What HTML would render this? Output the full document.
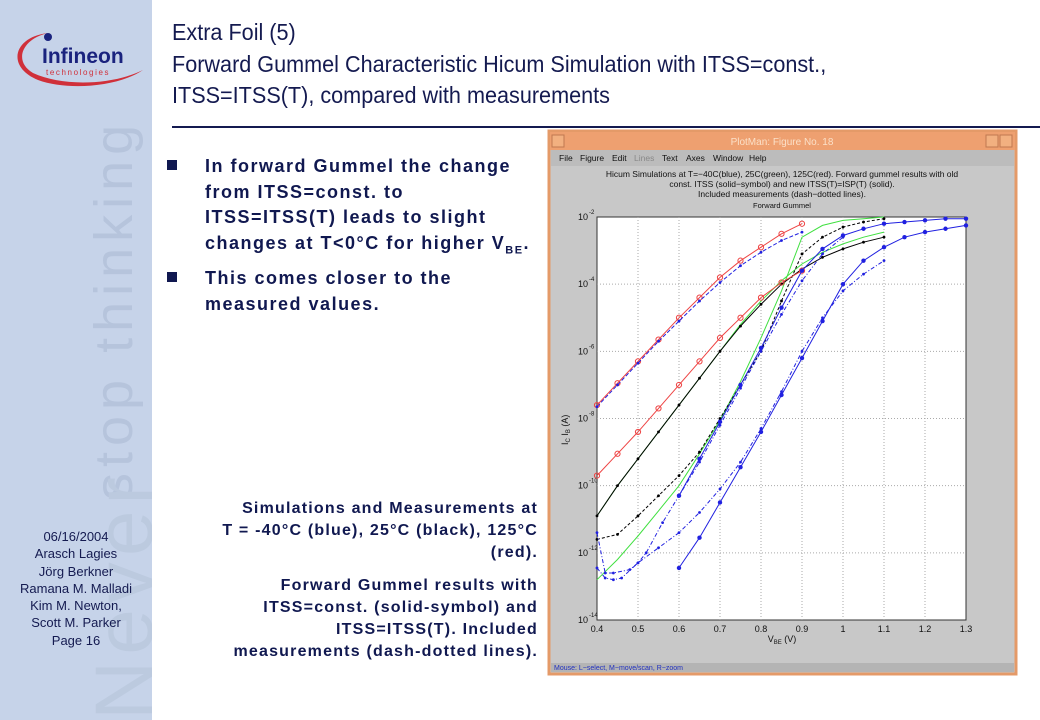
<!DOCTYPE html>
<html><head><meta charset="utf-8"><style>
body{margin:0;width:1040px;height:720px;overflow:hidden;background:#fff;font-family:"Liberation Sans",sans-serif;position:relative}
.abs{position:absolute}
.t{font-family:"Liberation Sans Narrow","Liberation Sans",sans-serif;font-size:23px;color:#141a50;white-space:nowrap;left:172px;transform:scaleX(0.94);transform-origin:left top}
.b{font-weight:bold;font-size:18px;color:#101850;line-height:25.5px;left:205px;white-space:nowrap;letter-spacing:1.5px}
.sq{width:10px;height:10px;background:#101850;left:167px}
.cap{font-weight:bold;font-size:16px;color:#101850;text-align:right;right:502px;width:380px;line-height:22px;white-space:nowrap;letter-spacing:1.2px}
</style></head><body>
<div class="abs" style="left:0;top:0;width:152px;height:720px;background:#c6d3e9"></div>
<svg class="abs" style="left:0;top:0" width="152" height="720">
<text transform="translate(132,500) rotate(-90)" font-size="54" fill="#b6c4dc" font-family="Liberation Sans" letter-spacing="6">stop thinking</text>
<text transform="translate(152,720) rotate(-90)" font-size="82" fill="#bccadf" font-family="Liberation Sans" letter-spacing="6">Never</text>
</svg>
<svg class="abs" style="left:8px;top:25px" width="140" height="70">
<path d="M40 8 C5 12,-2 42,30 55 C60 66,110 62,135 45 C105 60,55 62,25 48 C5 36,14 14,40 8Z" fill="#d0303a"/>
<circle cx="40" cy="12" r="4" fill="#1a237e"/>
<text x="34" y="38" font-size="21" font-weight="bold" fill="#1a237e" font-family="Liberation Sans Narrow,Liberation Sans">Infineon</text>
<text x="38" y="50" font-size="8" fill="#d0303a" letter-spacing="1.6">technologies</text>
</svg>
<div class="abs" style="left:0;top:528px;width:152px;text-align:center;font-size:13px;line-height:17.3px;color:#141a50">06/16/2004<br>Arasch Lagies<br>Jörg Berkner<br>Ramana M. Malladi<br>Kim M. Newton,<br>Scott M. Parker<br>Page 16</div>
<div class="abs t" style="top:17px;line-height:31.5px">Extra Foil (5)<br>Forward Gummel Characteristic Hicum Simulation with ITSS=const.,<br>ITSS=ITSS(T), compared with measurements</div>
<div class="abs" style="left:172px;top:126px;width:868px;height:2px;background:#141a50"></div>
<div class="abs sq" style="top:160px"></div>
<div class="abs b" style="top:154px">In forward Gummel the change<br>from ITSS=const. to<br>ITSS=ITSS(T) leads to slight<br>changes at T&lt;0°C for higher V<sub style="font-size:11px">BE</sub>.</div>
<div class="abs sq" style="top:272px"></div>
<div class="abs b" style="top:266px">This comes closer to the<br>measured values.</div>
<div class="abs cap" style="top:498px">Simulations and Measurements at<br>T = -40°C (blue), 25°C (black), 125°C<br>(red).</div>
<div class="abs cap" style="top:575px">Forward Gummel results with<br>ITSS=const. (solid-symbol) and<br>ITSS=ITSS(T). Included<br>measurements (dash-dotted lines).</div>
<svg class="abs" id="win" style="left:0;top:0" width="1040" height="720"></svg>
<script>
// data (log10 of current in A) vs VBE (V)
const xTicks=[0.4,0.5,0.6,0.7,0.8,0.9,1,1.1,1.2,1.3];
const yTickExps=[-2,-4,-6,-8,-10,-12,-14];
const xA=[0.4,0.45,0.5,0.55,0.6,0.65,0.7,0.75,0.8,0.85,0.9];
const red1=[-7.6,-6.95,-6.3,-5.65,-5.0,-4.4,-3.8,-3.3,-2.9,-2.5,-2.2];
const red2=[-9.7,-9.05,-8.4,-7.7,-7.0,-6.3,-5.6,-5.0,-4.4,-3.95,-3.6];
const red1m=[-7.65,-7.0,-6.35,-5.7,-5.1,-4.5,-3.95,-3.45,-3.05,-2.7,-2.45];
const xB=[0.4,0.45,0.5,0.55,0.6,0.65,0.7,0.75,0.8,0.85,0.9,0.95,1.0,1.05,1.1];
const blk1=[-10.9,-10.0,-9.2,-8.4,-7.6,-6.8,-6.0,-5.25,-4.6,-4.0,-3.55,-3.2,-2.95,-2.75,-2.6];
const grn2=[-10.9,-10.0,-9.2,-8.4,-7.6,-6.8,-6.0,-5.2,-4.5,-3.9,-3.4,-3.05,-2.8,-2.6,-2.45];
const blk2=[-11.6,-11.45,-10.9,-10.3,-9.7,-9.0,-8.0,-7.0,-6.0,-4.5,-3.1,-2.6,-2.3,-2.15,-2.05];
const grn1=[-12.8,-12.2,-11.5,-10.75,-10.0,-9.05,-8.05,-6.9,-5.6,-4.2,-2.6,-2.25,-2.1,-2.05,-2.0];
const xC=[0.6,0.65,0.7,0.75,0.8,0.85,0.9,0.95,1.0,1.05,1.1,1.15,1.2,1.25,1.3];
const blu1=[-12.45,-11.55,-10.5,-9.45,-8.4,-7.3,-6.2,-5.1,-4.0,-3.3,-2.9,-2.6,-2.45,-2.35,-2.25];
const blu2=[-10.3,-9.2,-8.1,-7.0,-5.9,-4.7,-3.6,-2.95,-2.55,-2.35,-2.2,-2.15,-2.1,-2.05,-2.05];
const xD=[0.4,0.42,0.44,0.48,0.5,0.52,0.56,0.6,0.65,0.7,0.75,0.8,0.85,0.9,0.95,1.0];
const bluM1=[-11.4,-12.6,-12.6,-12.5,-12.3,-12.0,-11.1,-10.3,-9.3,-8.2,-7.1,-6.0,-4.9,-3.9,-3.1,-2.6];
const xE=[0.4,0.42,0.44,0.46,0.5,0.55,0.6,0.65,0.7,0.75,0.8,0.85,0.9,0.95,1.0,1.05,1.1];
const bluM2=[-12.45,-12.75,-12.8,-12.75,-12.3,-11.85,-11.4,-10.8,-10.1,-9.3,-8.3,-7.2,-6.0,-5.0,-4.2,-3.7,-3.3];

const NS='http://www.w3.org/2000/svg';
const svg=document.getElementById('win');
const PL=597,PR=966,PT=217,PB=620;
const sx=v=>PL+(v-0.4)/0.9*(PR-PL);
const sy=e=>PT+(-2-e)/12*(PB-PT);
function mk(tag,attrs,parent){const el=document.createElementNS(NS,tag);for(const k in attrs)el.setAttribute(k,attrs[k]);(parent||svg).appendChild(el);return el;}
function txt(x,y,s,attrs){const t=mk('text',Object.assign({x:x,y:y},attrs));t.textContent=s;return t;}

let e;
e=mk('rect',{x:549,y:131,width:467,height:543,fill:'#c8c8c8',stroke:'#e49a68','stroke-width':3});


e=mk('rect',{x:550,y:132,width:465,height:18,fill:'#eea070'});


e=txt(782,145,'PlotMan:  Figure No. 18',{'text-anchor':'middle','font-size':10,fill:'#fbe0c8'});


e=mk('rect',{x:552,y:135,width:12,height:12,fill:'#f2b080',stroke:'#c07850'});


e=mk('rect',{x:986,y:135,width:12,height:12,fill:'#f2b080',stroke:'#c07850'});


e=mk('rect',{x:1000,y:135,width:12,height:12,fill:'#f2b080',stroke:'#c07850'});


e=mk('rect',{x:551,y:150,width:463,height:16,fill:'#bcbcbc'});


const menus=[['File',559],['Figure',580],['Edit',612],['Lines',634],['Text',662],['Axes',686],['Window',713],['Help',749]];
menus.forEach(m=>{const t=txt(m[1],161,m[0],{'font-size':8.5,fill:m[0]==='Lines'?'#888':'#111'});

});
const titles=[['Hicum Simulations at T=\u221240C(blue), 25C(green), 125C(red). Forward gummel results with old',177,8.5],['const. ITSS (solid\u2212symbol) and new ITSS(T)=ISP(T) (solid).',187,8.5],['Included measurements (dash\u2212dotted lines).',197,8.5],['Forward Gummel',208,7.5]];
titles.forEach((a,i)=>{const t=txt(782,a[1],a[0],{'text-anchor':'middle','font-size':a[2],fill:'#111'});

});
e=mk('rect',{x:PL,y:PT,width:PR-PL,height:PB-PT,fill:'#fff',stroke:'#333','stroke-width':1});


xTicks.forEach(v=>{const x=sx(v);
 if(v>0.4&&v<1.3){const g=mk('line',{x1:x,x2:x,y1:PT,y2:PB,stroke:'#aaa','stroke-dasharray':'1,2'});
 
 }
 const t=txt(x,632,String(v),{'text-anchor':'middle','font-size':9,fill:'#111'});
 
 });
yTickExps.forEach(p=>{const y=sy(p);
 if(p>-14&&p<-2){const g=mk('line',{x1:PL,x2:PR,y1:y,y2:y,stroke:'#aaa','stroke-dasharray':'1,2'});
 
 }
 const t=txt(583,y+3,'10',{'text-anchor':'middle','font-size':9,fill:'#111'});
 
 
 const s=txt(589,y-3,String(p),{'font-size':6,fill:'#111'});
 
 });
e=txt(782,642,'V',{'text-anchor':'middle','font-size':9,fill:'#111'});
e.innerHTML='V<tspan font-size="6" dy="2">BE</tspan><tspan dy="-2"> (V)</tspan>';


e=txt(0,0,'',{transform:'translate(568,445) rotate(-90)','font-size':9,fill:'#111'});
e.innerHTML='I<tspan font-size="6" dy="2">C</tspan><tspan dy="-2">  I</tspan><tspan font-size="6" dy="2">B</tspan><tspan dy="-2"> (A)</tspan>';


e=mk('rect',{x:551,y:663,width:463,height:9,fill:'#b4b4b4'});


e=txt(554,670,'Mouse: L\u2212select, M\u2212move/scan, R\u2212zoom',{'font-size':7,fill:'#2030c0'});



function series(name,xs,ys,color,dash,marker){
 const g=mk('g',{});
 
 
 const pts=xs.map((v,i)=>sx(v).toFixed(1)+','+sy(ys[i]).toFixed(1)).join(' ');
 mk('polyline',{points:pts,fill:'none',stroke:color,'stroke-width':1,'stroke-dasharray':dash||'none'},g);
 if(marker)xs.forEach((v,i)=>{
  if(marker==='o')mk('circle',{cx:sx(v),cy:sy(ys[i]),r:2.6,fill:'none',stroke:color},g);
  else mk('circle',{cx:sx(v),cy:sy(ys[i]),r:marker==='big'?2.2:1.4,fill:color},g);});
}
series('green-ic-25c',xB,grn1,'#40e040');
series('green-ib-25c',xB,grn2,'#40e040');
series('black-ib-25c',xB,blk1,'#000','', '.');
series('black-ic-25c-meas',xB,blk2,'#000','3,2','.');
series('red-ib-125c',xA,red1,'#ee4444','', 'o');
series('red-ic-125c',xA,red2,'#ee4444','', 'o');
series('blue-ib-125c-meas',xA,red1m,'#2020e0','4,2','.');
series('blue-ic-m40c',xC,blu1,'#2020e0','', 'big');
series('blue-ib-m40c',xC,blu2,'#2020e0','', 'big');
series('blue-meas-1',xD,bluM1,'#2020e0','4,2,1,2','.');
series('blue-meas-2',xE,bluM2,'#2020e0','4,2,1,2','.');
</script>
</body></html>
